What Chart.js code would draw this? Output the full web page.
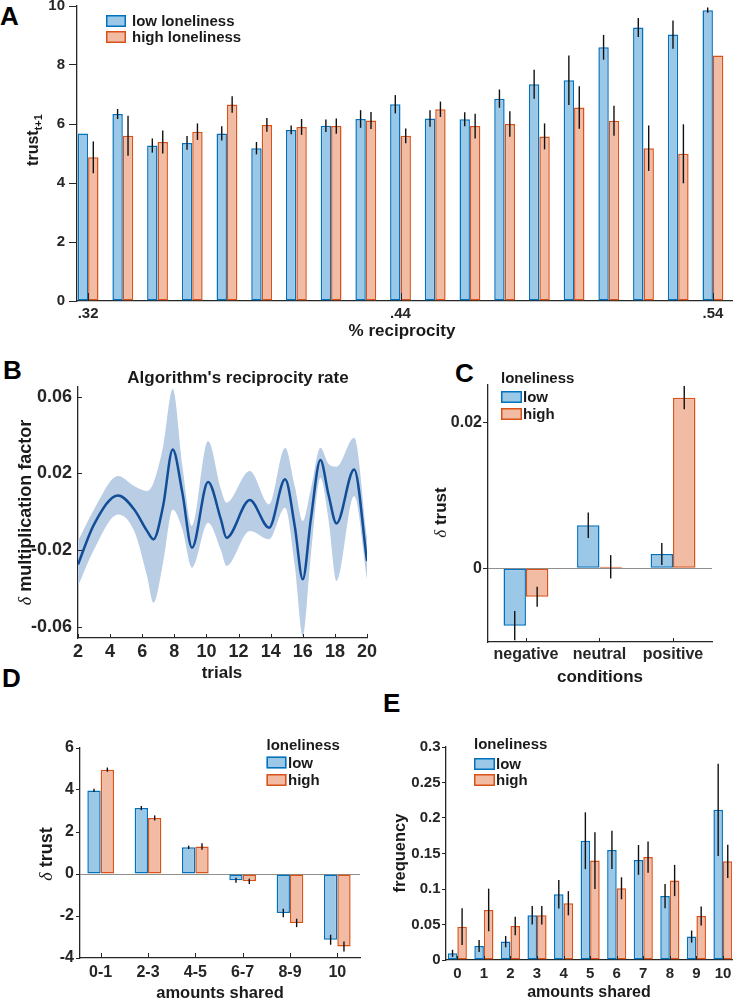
<!DOCTYPE html>
<html>
<head>
<meta charset="utf-8">
<script src="https://cdn.jsdelivr.net/npm/chart.js@4.4.0/dist/chart.umd.min.js"></script>
<style>
body{margin:0;width:737px;height:1000px;overflow:hidden;position:relative;background:#fff}
canvas{position:absolute}
.lt{position:absolute;font:bold 26px 'Liberation Sans',Arial,sans-serif;line-height:26px;color:#000}
</style>
</head>
<body>
<div class="lt" style="left:0;top:3px">A</div>
<div class="lt" style="left:3px;top:357px">B</div>
<div class="lt" style="left:455px;top:360px">C</div>
<div class="lt" style="left:2px;top:665px">D</div>
<div class="lt" style="left:383px;top:690px">E</div>
<canvas id="cA"></canvas>
<canvas id="cB"></canvas>
<canvas id="cC"></canvas>
<canvas id="cD"></canvas>
<canvas id="cE"></canvas>
<script>
// ---- panel A: trust at t+1 by % reciprocity ----
var aTickPos = [0, 9, 18]
var aTickLabels = ['.32', '.44', '.54']
var aYTicks = [0, 2, 4, 6, 8, 10]
var aLow = [5.68, 6.34, 5.27, 5.36, 5.68, 5.18, 5.80, 5.94, 6.17, 6.67, 6.19, 6.16, 6.86, 7.35, 7.48, 8.60, 9.27, 9.03, 9.86]
var aLowErr = [0, 0.17, 0.24, 0.23, 0.24, 0.21, 0.15, 0.21, 0.30, 0.31, 0.28, 0.24, 0.31, 0.49, 0.84, 0.42, 0.32, 0.48, 0.09]
var aHigh = [4.87, 5.60, 5.39, 5.74, 6.66, 5.97, 5.90, 5.93, 6.12, 5.60, 6.50, 5.93, 6.00, 5.58, 6.56, 6.11, 5.18, 4.99, 8.32]
var aHighErr = [0.54, 0.68, 0.39, 0.28, 0.28, 0.23, 0.27, 0.26, 0.29, 0.25, 0.26, 0.42, 0.43, 0.44, 0.72, 0.51, 0.77, 1.0, 0]

// ---- panel B: algorithm's reciprocity rate ----
var bTrials = [2, 3, 4.5, 5.5, 6.3, 6.7, 7.3, 7.9, 8.5, 9.1, 10.1, 10.9, 11.25, 12.7, 13.9, 14.9, 15.5, 16.0, 16.5, 17.1, 17.6, 18.1, 19.2, 20]
var bMean = [-0.0275, -0.0066, 0.0085, 0.0012, -0.010, -0.0144, 0.003, 0.0325, 0.0099, -0.0188, 0.0155, -0.004, -0.0136, 0.0061, -0.0083, 0.0169, -0.0075, -0.0353, -0.004, 0.0270, 0.009, -0.0061, 0.0221, -0.0257]
var bUpper = [-0.0153, 0.0012, 0.0186, 0.0134, 0.0108, 0.015, 0.034, 0.0640, 0.024, -0.0075, 0.0369, 0.0117, 0.0047, 0.0212, 0.0038, 0.0334, 0.0134, -0.0049, 0.0116, 0.0334, 0.0250, 0.0235, 0.0386, -0.013]
var bLower = [-0.0388, -0.0197, -0.0014, -0.0101, -0.0336, -0.0475, -0.0266, 0.0012, -0.0092, -0.0292, -0.0057, -0.020, -0.0283, -0.0101, -0.0144, 0.0021, -0.028, -0.0649, -0.023, 0.0177, -0.004, -0.0362, 0.0082, -0.0353]
var bYTicks = [-0.06, -0.02, 0.02, 0.06]
var bYLabels = ['-0.06', '-0.02', '0.02', '0.06']

// ---- panel C: delta trust by condition ----
var cConditions = ['negative', 'neutral', 'positive']
var cLow = [-0.00786, 0.00589, 0.00196]
var cLowErr = [0.0020, 0.00176, 0.0015]
var cHigh = [-0.00389, 0.0002, 0.02337]
var cHighErr = [0.00137, 0.0016, 0.00158]
var cYTicks = [0, 0.02]
var cYLabels = ['0', '0.02']

// ---- panel D: delta trust by amounts shared ----
var dBins = ['0-1', '2-3', '4-5', '6-7', '8-9', '10']
var dLow = [3.98, 3.14, 1.27, -0.30, -1.86, -3.13]
var dLowErr = [0.08, 0.10, 0.08, 0.12, 0.20, 0.24]
var dHigh = [4.97, 2.67, 1.31, -0.35, -2.33, -3.45]
var dHighErr = [0.10, 0.12, 0.15, 0.13, 0.20, 0.24]
var dYTicks = [-4, -2, 0, 2, 4, 6]

// ---- panel E: frequency of amounts shared ----
var eAmounts = ['0', '1', '2', '3', '4', '5', '6', '7', '8', '9', '10']
var eLow = [0.0094, 0.0197, 0.0259, 0.063, 0.0926, 0.168, 0.155, 0.141, 0.090, 0.033, 0.2115]
var eLowErr = [0.005, 0.0085, 0.008, 0.013, 0.020, 0.040, 0.027, 0.021, 0.017, 0.0085, 0.065]
var eHigh = [0.047, 0.0705, 0.048, 0.063, 0.080, 0.140, 0.101, 0.145, 0.112, 0.062, 0.139]
var eHighErr = [0.026, 0.030, 0.013, 0.013, 0.017, 0.040, 0.0155, 0.022, 0.022, 0.0135, 0.0235]
var eYTicks = [0, 0.05, 0.1, 0.15, 0.2, 0.25, 0.3]
var eYLabels = ['0', '0.05', '0.1', '0.15', '0.2', '0.25', '0.3']

var FONT = "'Liberation Sans', Arial, sans-serif"
var AX = '#262626'
var BLUE = '#0072bd', BLUE_F = '#9cc8e8', ORANGE = '#d95319', ORANGE_F = '#f2bba4'
var LINE = '#124d97', BAND = '#b9cde5'

Chart.defaults.font.family = FONT
Chart.defaults.font.weight = 'bold'
Chart.defaults.color = AX

function idx(a) { return a.map(function (v, i) { return i }) }
function pts(xs, ys) { return xs.map(function (x, i) { return {x: x, y: ys[i]} }) }

function place(id, box) {
  var c = document.getElementById(id)
  c.width = box.w; c.height = box.h
  c.style.left = box.left + 'px'; c.style.top = box.top + 'px'
  return c
}

function text(ctx, s, x, y, size, align, style) {
  ctx.font = (style || 'bold') + ' ' + size + 'px ' + FONT
  ctx.textAlign = align || 'left'
  ctx.textBaseline = 'alphabetic'
  ctx.fillText(s, x, y + size * 0.36)
}

// rotated axis title; x = baseline, y = centre
function vtitle(ctx, parts, x, y) {
  var w = 0
  parts.forEach(function (p) { ctx.font = p.font; p.w = ctx.measureText(p.t).width; w += p.w })
  ctx.save()
  ctx.translate(x, y)
  ctx.rotate(-Math.PI / 2)
  ctx.textAlign = 'left'; ctx.textBaseline = 'alphabetic'
  var px = -w / 2
  parts.forEach(function (p) { ctx.font = p.font; ctx.fillText(p.t, px, p.dy || 0); px += p.w })
  ctx.restore()
}

function extras(box, o) {
  var X = function (v) { return v - box.left }, Y = function (v) { return v - box.top }
  return {
    id: 'extras',
    afterDatasetsDraw: function (chart) {
      var ctx = chart.ctx, a = chart.chartArea, xs = chart.scales.x, ys = chart.scales.y
      ctx.save()
      ctx.beginPath(); ctx.rect(a.left, a.top, a.right - a.left, a.bottom - a.top); ctx.clip()
      ctx.strokeStyle = '#111'; ctx.lineWidth = 1.4
      chart.data.datasets.forEach(function (ds, di) {
        if (!ds.errors) return
        chart.getDatasetMeta(di).data.forEach(function (el, i) {
          var v = ds.data[i].y, e = ds.errors[i]
          if (!e) return
          ctx.beginPath()
          ctx.moveTo(el.x, ys.getPixelForValue(v - e))
          ctx.lineTo(el.x, ys.getPixelForValue(v + e))
          ctx.stroke()
        })
      })
      ctx.restore()
      // inward tick marks
      ctx.save()
      ctx.strokeStyle = AX; ctx.lineWidth = 1
      if (o.inX) xs.ticks.forEach(function (t) {
        var p = Math.round(xs.getPixelForValue(t.value)) + 0.5
        ctx.beginPath(); ctx.moveTo(p, a.bottom); ctx.lineTo(p, a.bottom - o.inX); ctx.stroke()
      })
      if (o.inY) ys.ticks.forEach(function (t) {
        var p = Math.round(ys.getPixelForValue(t.value)) + 0.5
        ctx.beginPath(); ctx.moveTo(a.left, p); ctx.lineTo(a.left + o.inY, p); ctx.stroke()
      })
      ctx.restore()
    },
    afterDraw: function (chart) {
      var ctx = chart.ctx
      ctx.save()
      ctx.fillStyle = '#1a1a1a'
      if (o.xtitle) text(ctx, o.xtitle.t, X(o.xtitle.x), Y(o.xtitle.y), o.xtitle.size, 'center')
      if (o.title) text(ctx, o.title.t, X(o.title.x), Y(o.title.y), o.title.size, 'center')
      if (o.ytitle) vtitle(ctx, o.ytitle.parts, X(o.ytitle.x), Y(o.ytitle.y))
      var lg = o.legend
      if (lg) {
        if (lg.title) text(ctx, lg.title, X(lg.x), Y(lg.titleY), lg.size)
        lg.tops.forEach(function (top, i) {
          var ds = chart.data.datasets[i]
          ctx.fillStyle = ds.backgroundColor; ctx.strokeStyle = ds.borderColor; ctx.lineWidth = 1.5
          ctx.fillRect(X(lg.x), Y(top), lg.w, lg.h)
          ctx.strokeRect(X(lg.x) + 0.75, Y(top) + 0.75, lg.w - 1.5, lg.h - 1.5)
          ctx.fillStyle = '#1a1a1a'
          text(ctx, ds.label, X(lg.tx), Y(top + lg.h / 2), lg.size)
        })
      }
      ctx.restore()
    }
  }
}

function bars(vals, errs, label, fill, edge) {
  return {
    label: label, data: pts(idx(vals), vals), errors: errs,
    backgroundColor: fill, borderColor: edge, borderWidth: 1.5, borderSkipped: false
  }
}

function barChart(id, box, o) {
  return new Chart(place(id, box), {
    type: 'bar',
    data: {datasets: [bars(o.low, o.lowErr, o.names[0], BLUE_F, BLUE), bars(o.high, o.highErr, o.names[1], ORANGE_F, ORANGE)]},
    options: {
      responsive: false, animation: false,
      layout: {padding: {top: 20, right: 20, left: 0, bottom: 0}},
      datasets: {bar: {categoryPercentage: o.cat, barPercentage: 1}},
      plugins: {legend: {display: false}, tooltip: {enabled: false}},
      scales: {
        x: {
          type: 'linear', min: o.xmin, max: o.xmax, offset: false,
          grid: {display: false, drawTicks: false, offset: false},
          border: {color: AX, width: 1.3},
          afterBuildTicks: function (s) { s.ticks = o.xpos.map(function (v) { return {value: v} }) },
          ticks: {callback: function (v, i) { return o.xlabels[i] }, padding: o.xPad, font: {size: o.xFont}, maxRotation: 0, autoSkip: false},
          afterFit: function (s) { s.height = o.xh }
        },
        y: {
          min: o.ymin, max: o.ymax,
          grid: {
            drawOnChartArea: !!o.zero, drawTicks: true, tickLength: o.yTickLen, tickColor: AX, lineWidth: 1,
            color: function (c) { return c.tick && c.tick.value === 0 ? '#8f8f8f' : 'rgba(0,0,0,0)' }
          },
          border: {color: AX, width: 1.3},
          afterBuildTicks: function (s) { s.ticks = o.ypos.map(function (v) { return {value: v} }) },
          ticks: {callback: function (v, i) { return o.ylabels[i] }, padding: o.yPad, font: {size: o.yFont}},
          afterFit: function (s) { s.width = o.yw }
        }
      }
    },
    plugins: [extras(box, o)]
  })
}

var delta = function (size) { return {t: '\u03b4', font: 'italic ' + size + 'px "Liberation Serif", serif'} }

// A
barChart('cA', {left: 0, top: -14, w: 752, h: 359}, {
  low: aLow, lowErr: aLowErr, high: aHigh, highErr: aHighErr, names: ['low loneliness', 'high loneliness'],
  xmin: -0.32, xmax: 18.55, cat: 0.6, xpos: aTickPos, xlabels: aTickLabels, xPad: 4, xFont: 15, xh: 44,
  ymin: 0, ymax: 10, ypos: aYTicks, ylabels: aYTicks.map(String), yPad: 4, yFont: 15, yTickLen: 8, yw: 77,
  inX: 8,
  xtitle: {t: '% reciprocity', x: 402, y: 330, size: 17},
  ytitle: {x: 38.2, y: 140, parts: [{t: 'trust', font: 'bold 16px ' + FONT}, {t: 't+1', font: 'bold 11px ' + FONT, dy: 4}]},
  legend: {x: 106, w: 20, h: 12, tops: [15, 31], tx: 132, size: 15}
})

// B
new Chart(place('cB', {left: 0, top: 367, w: 387, h: 317}), {
  type: 'line',
  data: {datasets: [
    {data: pts(bTrials, bMean), borderColor: LINE, borderWidth: 2.5, pointRadius: 0, fill: false, cubicInterpolationMode: 'monotone'},
    {data: pts(bTrials, bUpper), borderWidth: 0, borderColor: 'rgba(0,0,0,0)', backgroundColor: BAND, pointRadius: 0, fill: '+1', cubicInterpolationMode: 'monotone'},
    {data: pts(bTrials, bLower), borderWidth: 0, borderColor: 'rgba(0,0,0,0)', pointRadius: 0, fill: false, cubicInterpolationMode: 'monotone'}
  ]},
  options: {
    responsive: false, animation: false,
    layout: {padding: {top: 20, right: 20, left: 0, bottom: 0}},
    plugins: {legend: {display: false}, tooltip: {enabled: false}},
    scales: {
      x: {
        type: 'linear', min: 2, max: 20,
        grid: {display: false, drawTicks: false}, border: {color: AX, width: 1.3},
        ticks: {stepSize: 2, padding: 3, font: {size: 18}, maxRotation: 0, autoSkip: false},
        afterFit: function (s) { s.height = 46 }
      },
      y: {
        min: -0.0659, max: 0.0651,
        grid: {display: false, drawTicks: false}, border: {color: AX, width: 1.3},
        afterBuildTicks: function (s) { s.ticks = bYTicks.map(function (v) { return {value: v} }) },
        ticks: {callback: function (v, i) { return bYLabels[i] }, padding: 6, font: {size: 18}},
        afterFit: function (s) { s.width = 78 }
      }
    }
  },
  plugins: [extras({left: 0, top: 367}, {
    inX: 4, inY: 4,
    title: {t: "Algorithm's reciprocity rate", x: 238, y: 377, size: 17},
    xtitle: {t: 'trials', x: 222, y: 672, size: 17},
    ytitle: {x: 31.2, y: 512.5, parts: [delta(18), {t: ' multiplication factor', font: 'bold 18px ' + FONT}]}
  })]
})

// C
barChart('cC', {left: 420, top: 365, w: 312, h: 323}, {
  low: cLow, lowErr: cLowErr, high: cHigh, highErr: cHighErr, names: ['low', 'high'],
  xmin: -0.516, xmax: 2.53, cat: 0.61, xpos: [0, 1, 2], xlabels: cConditions, xPad: 3, xFont: 16, xh: 46,
  ymin: -0.0101, ymax: 0.0251, ypos: cYTicks, ylabels: cYLabels, yPad: 1, yFont: 16, yTickLen: 5, yw: 68,
  inX: 4, zero: true,
  xtitle: {t: 'conditions', x: 600, y: 676, size: 17},
  ytitle: {x: 446.2, y: 512.5, parts: [delta(17), {t: ' trust', font: 'bold 17px ' + FONT}]},
  legend: {title: 'loneliness', x: 501, titleY: 378, w: 21, h: 12, tops: [391, 408], tx: 523, size: 15}
})

// D
barChart('cD', {left: 20, top: 728, w: 360, h: 272}, {
  low: dLow, lowErr: dLowErr, high: dHigh, highErr: dHighErr, names: ['low', 'high'],
  xmin: -0.437, xmax: 5.48, cat: 0.564, xpos: idx(dBins), xlabels: dBins, xPad: 5, xFont: 16, xh: 42,
  ymin: -4, ymax: 6, ypos: dYTicks, ylabels: dYTicks.map(String), yPad: 2, yFont: 16, yTickLen: 4, yw: 60,
  inX: 5, zero: true,
  xtitle: {t: 'amounts shared', x: 220, y: 992, size: 16.5},
  ytitle: {x: 51.5, y: 854, parts: [delta(18), {t: ' trust', font: 'bold 18px ' + FONT}]},
  legend: {title: 'loneliness', x: 266.5, titleY: 745, w: 20, h: 12, tops: [756.5, 774], tx: 288, size: 15}
})

// E
barChart('cE', {left: 380, top: 727, w: 372, h: 273}, {
  low: eLow, lowErr: eLowErr, high: eHigh, highErr: eHighErr, names: ['low', 'high'],
  xmin: -0.426, xmax: 10.34, cat: 0.72, xpos: idx(eAmounts), xlabels: eAmounts, xPad: 5, xFont: 15, xh: 40,
  ymin: 0, ymax: 0.3, ypos: eYTicks, ylabels: eYLabels, yPad: 1.5, yFont: 15, yTickLen: 4, yw: 66,
  inX: 4,
  xtitle: {t: 'amounts shared', x: 589, y: 991.5, size: 16},
  ytitle: {x: 405, y: 853, parts: [{t: 'frequency', font: 'bold 16.5px ' + FONT}]},
  legend: {title: 'loneliness', x: 474, titleY: 743.3, w: 21, h: 12, tops: [758, 774], tx: 496, size: 15}
})
</script>
</body>
</html>
